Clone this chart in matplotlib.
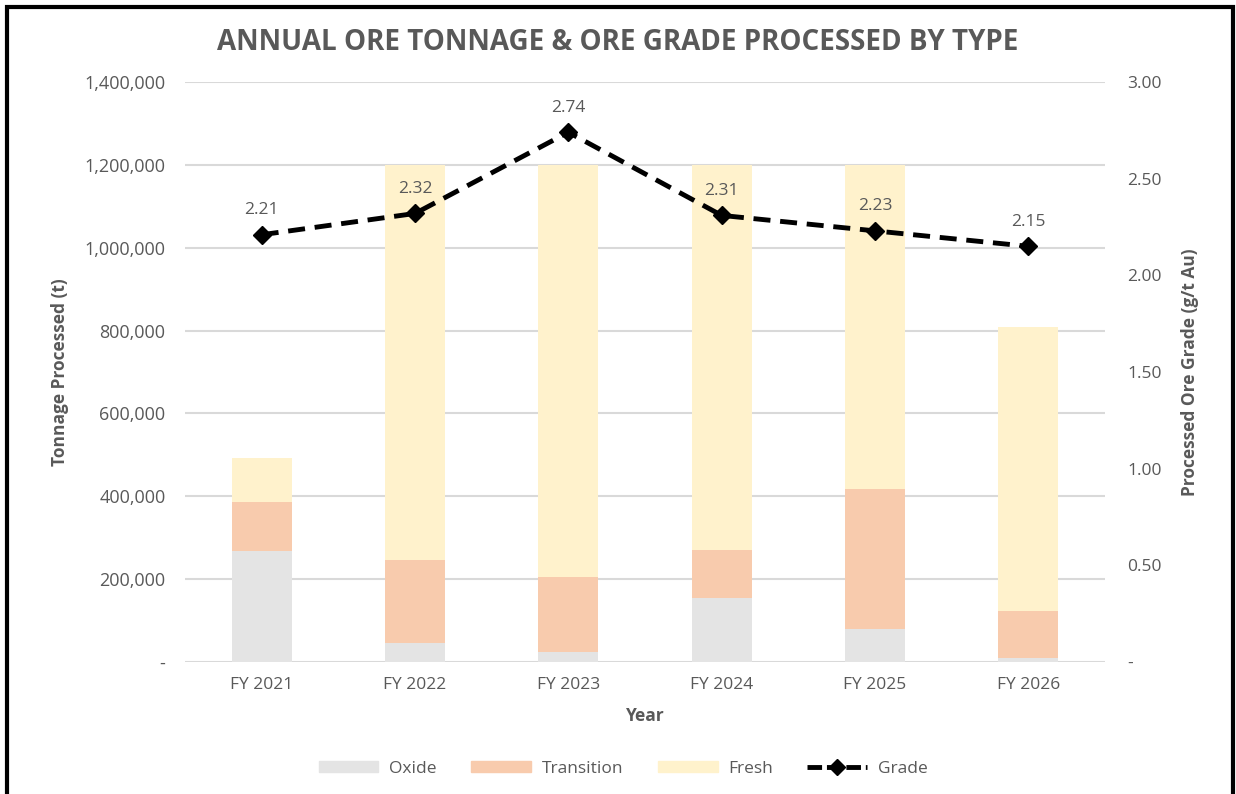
import matplotlib.pyplot as plt
import numpy as np
from matplotlib.patches import Rectangle
from matplotlib.lines import Line2D

# ------------------------------
# Data
# ------------------------------
years = ["FY 2021", "FY 2022", "FY 2023", "FY 2024", "FY 2025", "FY 2026"]
oxide = [268000, 46000, 24000, 154000, 80000, 10000]
transition = [118000, 200000, 181000, 116000, 338000, 113000]
fresh = [106000, 954000, 995000, 930000, 782000, 685000]
grade = [2.21, 2.32, 2.74, 2.31, 2.23, 2.15]

left_ticks = [0, 200000, 400000, 600000, 800000, 1000000, 1200000, 1400000]
right_ticks = [0, 0.5, 1.0, 1.5, 2.0, 2.5, 3.0]

# ------------------------------
# Styling
# ------------------------------
plt.rcParams['font.family'] = ['Open Sans', 'DejaVu Sans']
text_col = "#595959"
c_oxide = "#E4E4E4"
c_trans = "#F8CBAD"
c_fresh = "#FFF2CC"
grid_col = "#D9D9D9"

fig = plt.figure(figsize=(12.36, 7.94), dpi=100)
ax = fig.add_axes([185 / 1236, 1 - 662 / 794, 920 / 1236, 580 / 794])

x = np.arange(len(years))
w = 0.39
bottom2 = np.array(oxide)
bottom3 = bottom2 + np.array(transition)
ax.bar(x, oxide, w, color=c_oxide, zorder=2, label="Oxide")
ax.bar(x, transition, w, bottom=bottom2, color=c_trans, zorder=2, label="Transition")
ax.bar(x, fresh, w, bottom=bottom3, color=c_fresh, zorder=2, label="Fresh")

ax.set_xlim(-0.5, len(years) - 0.5)
ax.set_ylim(0, 1400000)
ax.set_yticks(left_ticks)
ax.set_yticklabels(["-" if v == 0 else f"{v:,}" for v in left_ticks])
ax.set_xticks(x)
ax.set_xticklabels(years)
ax.yaxis.grid(True, color=grid_col, linewidth=1.5, zorder=0)
ax.set_axisbelow(True)
for s in ax.spines.values():
    s.set_visible(False)
ax.tick_params(axis="both", length=0, colors=text_col, labelsize=12.5)
ax.tick_params(axis="y", labelsize=13, pad=14)
ax.tick_params(axis="x", pad=11)
ax.set_xlabel("Year", fontsize=12.5, fontweight="bold", color=text_col, labelpad=10)
ax.set_ylabel("Tonnage Processed (t)", fontsize=12.5, fontweight="bold", color=text_col, labelpad=11)

# secondary axis for grade
ax2 = ax.twinx()
ax2.set_ylim(0, 3.0)
ax2.set_yticks(right_ticks)
ax2.set_yticklabels(["-" if v == 0 else f"{v:.2f}" for v in right_ticks])
for s in ax2.spines.values():
    s.set_visible(False)
ax2.tick_params(axis="y", length=0, colors=text_col, labelsize=12.5, pad=16)
ax2.set_ylabel("Processed Ore Grade (g/t Au)", fontsize=12.5, fontweight="bold",
               color=text_col, labelpad=14)
ax2.plot(x, grade, color="black", linewidth=3.5, linestyle=(0, (3.5, 2)),
         marker="D", markersize=9, zorder=5, label="Grade")
for xi, g in zip(x, grade):
    ax2.annotate(f"{g:.2f}", (xi, g), xytext=(0, 12), textcoords="offset points",
                 ha="center", va="bottom", fontsize=12.5, color=text_col)

fig.text(0.5, 1 - 42 / 794, "ANNUAL ORE TONNAGE & ORE GRADE PROCESSED BY TYPE",
         ha="center", va="center", fontsize=20, fontweight="bold", color=text_col)

# legend
handles = [
    Rectangle((0, 0), 1, 1, color=c_oxide),
    Rectangle((0, 0), 1, 1, color=c_trans),
    Rectangle((0, 0), 1, 1, color=c_fresh),
    Line2D([0], [0], color="black", linewidth=3.5, linestyle=(0, (3, 1)),
           marker="D", markersize=8),
]
leg = fig.legend(handles, ["Oxide", "Transition", "Fresh", "Grade"], ncol=4,
                 loc="center", bbox_to_anchor=(623 / 1236, 1 - 769 / 794),
                 frameon=False, fontsize=12.5, handlelength=3.45, handleheight=0.6,
                 columnspacing=2.0, handletextpad=0.6)
for t in leg.get_texts():
    t.set_color(text_col)

# outer black frame
fig.patches.append(Rectangle((7 / 1236, -0.05), 1226 / 1236, 1.05 - 7 / 794,
                             transform=fig.transFigure, fill=False,
                             edgecolor="black", linewidth=3))

fig.savefig("out.png", dpi=100)
